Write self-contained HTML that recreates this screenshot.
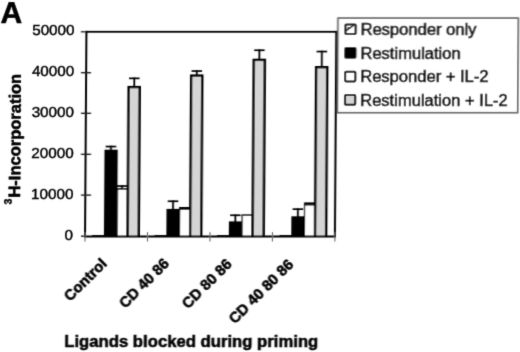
<!DOCTYPE html>
<html><head><meta charset="utf-8"><style>
html,body{margin:0;padding:0;background:#fff;}
body{width:520px;height:352px;overflow:hidden;}
svg{display:block;will-change:transform;}
text{font-family:"Liberation Sans",sans-serif;fill:#000;stroke:#000;stroke-width:0.55px;}
.tk{font-size:15.2px;stroke-width:0.45px;}
.lg{font-size:16.55px;stroke-width:0.55px;}
.b{font-weight:bold;}
</style></head><body>
<svg width="520" height="352" viewBox="0 0 520 352">
<defs><filter id="bl" x="0" y="0" width="520" height="352" filterUnits="userSpaceOnUse"><feConvolveMatrix order="3" kernelMatrix="1 6 1 6 36 6 1 6 1" divisor="64" edgeMode="duplicate"/></filter></defs>
<rect width="520" height="352" fill="#fff"/>
<g filter="url(#bl)"><g transform="matrix(1,0,-0.0068,1,1.6048,0)">
<text x="-0.9" y="22.5" class="b lA" style="font-size:30px">A</text>
<text transform="translate(73.1,34.65) scale(1,0.955)" text-anchor="end" class="tk">50000</text>
<text transform="translate(73.1,76.45) scale(1,0.955)" text-anchor="end" class="tk">40000</text>
<text transform="translate(73.1,117.05) scale(1,0.955)" text-anchor="end" class="tk">30000</text>
<text transform="translate(73.1,158.05) scale(1,0.955)" text-anchor="end" class="tk">20000</text>
<text transform="translate(73.1,198.85) scale(1,0.955)" text-anchor="end" class="tk">10000</text>
<text transform="translate(73.1,239.95) scale(1,0.955)" text-anchor="end" class="tk">0</text>
<rect x="92.05" y="235.10" width="12.50" height="1.40" fill="#000"/>
<rect x="109.45" y="145.70" width="1.80" height="5.00" fill="#000"/>
<rect x="105.10" y="145.70" width="10.50" height="1.70" fill="#000"/>
<rect x="132.35" y="77.50" width="1.80" height="9.40" fill="#000"/>
<rect x="128.00" y="77.50" width="10.50" height="1.70" fill="#000"/>
<rect x="120.75" y="185.20" width="1.80" height="4.00" fill="#000"/>
<rect x="116.40" y="185.20" width="10.50" height="1.70" fill="#000"/>
<rect x="103.90" y="149.70" width="13.25" height="86.80" fill="#000"/>
<rect x="116.45" y="188.20" width="11.20" height="48.30" fill="#000"/>
<rect x="117.65" y="189.70" width="8.90" height="46.80" fill="#fff"/>
<rect x="126.45" y="85.90" width="13.50" height="150.60" fill="#000"/>
<rect x="128.85" y="88.30" width="8.65" height="148.20" fill="#d5d5d5"/>
<rect x="154.51" y="235.10" width="12.50" height="1.40" fill="#000"/>
<rect x="171.91" y="200.40" width="1.80" height="9.50" fill="#000"/>
<rect x="167.56" y="200.40" width="10.50" height="1.70" fill="#000"/>
<rect x="194.81" y="70.20" width="1.80" height="5.20" fill="#000"/>
<rect x="190.46" y="70.20" width="10.50" height="1.70" fill="#000"/>
<rect x="166.36" y="208.90" width="13.25" height="27.60" fill="#000"/>
<rect x="178.91" y="207.00" width="11.20" height="29.50" fill="#000"/>
<rect x="180.11" y="209.80" width="8.90" height="26.70" fill="#fff"/>
<rect x="188.91" y="74.40" width="13.50" height="162.10" fill="#000"/>
<rect x="191.31" y="76.80" width="8.65" height="159.70" fill="#d5d5d5"/>
<rect x="216.97" y="235.10" width="12.50" height="1.40" fill="#000"/>
<rect x="234.37" y="214.40" width="1.80" height="8.00" fill="#000"/>
<rect x="230.02" y="214.40" width="10.50" height="1.70" fill="#000"/>
<rect x="257.27" y="49.40" width="1.80" height="10.30" fill="#000"/>
<rect x="252.92" y="49.40" width="10.50" height="1.70" fill="#000"/>
<rect x="228.82" y="221.40" width="13.25" height="15.10" fill="#000"/>
<rect x="241.37" y="214.40" width="11.20" height="22.10" fill="#000"/>
<rect x="242.57" y="216.00" width="8.90" height="20.50" fill="#fff"/>
<rect x="251.37" y="58.70" width="13.50" height="177.80" fill="#000"/>
<rect x="253.77" y="61.10" width="8.65" height="175.40" fill="#d5d5d5"/>
<rect x="279.43" y="235.10" width="12.50" height="1.40" fill="#000"/>
<rect x="296.83" y="208.30" width="1.80" height="9.00" fill="#000"/>
<rect x="292.48" y="208.30" width="10.50" height="1.70" fill="#000"/>
<rect x="319.73" y="50.70" width="1.80" height="16.30" fill="#000"/>
<rect x="315.38" y="50.70" width="10.50" height="1.70" fill="#000"/>
<rect x="291.28" y="216.30" width="13.25" height="20.20" fill="#000"/>
<rect x="303.83" y="202.40" width="11.20" height="34.10" fill="#000"/>
<rect x="305.03" y="205.50" width="8.90" height="31.00" fill="#fff"/>
<rect x="313.83" y="66.00" width="13.50" height="170.50" fill="#000"/>
<rect x="316.23" y="68.40" width="8.65" height="168.10" fill="#d5d5d5"/>
<rect x="84.05" y="30.9" width="2" height="206.3"/>
<rect x="84.05" y="30.9" width="251.84" height="1.8"/>
<rect x="333.89" y="30.9" width="2" height="206.3"/>
<rect x="84.05" y="235.5" width="251.84" height="2.0"/>
<rect x="79.61" y="31.10" width="4.1" height="1.4" fill="#222"/>
<rect x="79.89" y="72.00" width="10.0" height="1.4" fill="#222"/>
<rect x="80.17" y="112.60" width="10.0" height="1.4" fill="#222"/>
<rect x="80.44" y="153.60" width="10.0" height="1.4" fill="#222"/>
<rect x="80.72" y="194.40" width="10.0" height="1.4" fill="#222"/>
<rect x="81.00" y="235.50" width="4.1" height="1.4" fill="#222"/>
<rect x="84.50" y="232.1" width="1.1" height="9.4" fill="#6a6a6a"/>
<rect x="146.96" y="232.1" width="1.1" height="9.4" fill="#6a6a6a"/>
<rect x="209.42" y="232.1" width="1.1" height="9.4" fill="#6a6a6a"/>
<rect x="271.88" y="232.1" width="1.1" height="9.4" fill="#6a6a6a"/>
<rect x="334.34" y="232.1" width="1.1" height="9.4" fill="#6a6a6a"/>
<rect x="336.5" y="18.1" width="180.3" height="94.6" fill="#fff" stroke="#5c5c5c" stroke-width="1.6"/>
<rect x="344.1" y="24.40" width="10.2" height="9.6" rx="0.8" fill="#fff" stroke="#000" stroke-width="2"/>
<path d="M344.6 30.80 L352.3 25.20" stroke="#000" stroke-width="1.4"/>
<circle cx="347.3" cy="28.10" r="1.1" fill="#000"/>
<text transform="translate(359.2,35.0) scale(1,0.96)" class="lg">Responder only</text>
<rect x="344.1" y="48.10" width="10.2" height="9.6" rx="0.8" fill="#000" stroke="#000" stroke-width="2"/>
<text transform="translate(359.2,58.8) scale(1,0.96)" class="lg">Restimulation</text>
<rect x="344.1" y="71.80" width="10.2" height="9.6" rx="0.8" fill="#fff" stroke="#000" stroke-width="2"/>
<text transform="translate(359.2,81.95) scale(1,0.96)" class="lg">Responder + IL-2</text>
<rect x="344.1" y="95.10" width="10.2" height="9.6" rx="0.8" fill="#d5d5d5" stroke="#000" stroke-width="2"/>
<text transform="translate(359.2,105.8) scale(1,0.96)" class="lg">Restimulation + IL-2</text>
<text class="b yl" transform="translate(19.8,204.6) rotate(-90)" style="font-size:16.5px"><tspan style="font-size:10.5px" dy="-8.4">3</tspan><tspan dy="8.4" dx="1.2">H-Incorporation</tspan></text>
<text class="b xl1" transform="translate(70.45,301.95) rotate(-45)" style="font-size:14.9px">Control</text>
<text class="b xl2" transform="translate(125.65,308.9) rotate(-45)" style="font-size:14.9px">CD 40 86</text>
<text class="b xl3" transform="translate(188.4,309.45) rotate(-45)" style="font-size:14.9px">CD 80 86</text>
<text class="b xl4" transform="translate(235.45,324.5) rotate(-45)" style="font-size:14.9px">CD 40 80 86</text>
<text class="b ttl" x="65.0" y="347.0" style="font-size:16.7px">Ligands blocked during priming</text>
</g></g>
</svg>
</body></html>
